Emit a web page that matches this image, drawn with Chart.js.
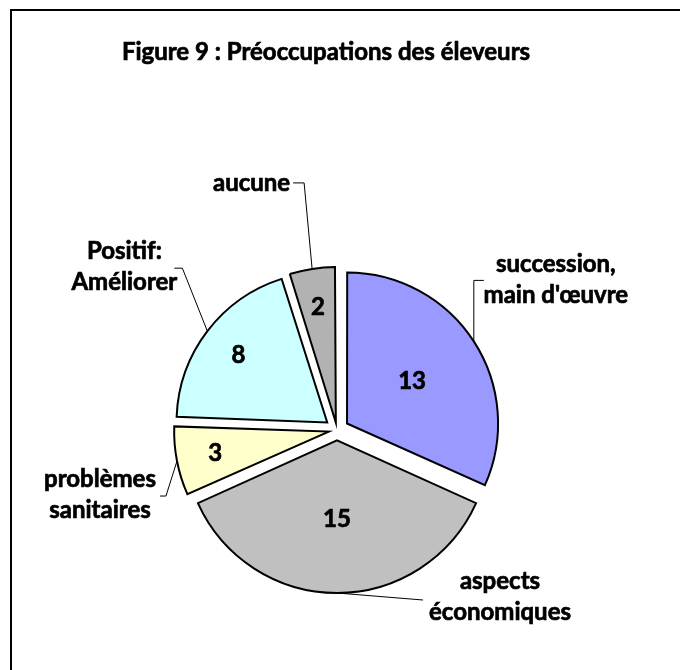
<!DOCTYPE html>
<html>
<head>
<meta charset="utf-8">
<script src="https://cdn.jsdelivr.net/npm/chart.js@4.4.0/dist/chart.umd.min.js"></script>
<style>
  html, body { margin: 0; padding: 0; background: #fff; }
  canvas { display: block; }
</style>
</head>
<body>
<canvas id="pieChart" width="680" height="670"></canvas>
<script>
const chartTitle = 'Figure 9 : Préoccupations des éleveurs';
const categories = [
  ['succession,', "main d'œuvre"],
  ['aspects', 'économiques'],
  ['problèmes', 'sanitaires'],
  ['Positif:', 'Améliorer'],
  ['aucune']
];
const counts = [13, 15, 3, 8, 2];

const sliceColors = ['#9999FF', '#C0C0C0', '#FFFFCC', '#CCFFFF', '#B2B2B2'];
const FONT = 'bold 24px Lato';
const EXPLODE = 13; // how far each slice is pulled out, in px

// leader line bends and label block centre, relative to the point on the arc
const leaders = [
  { path: [[0, -61], [10, -61]], text: [82, -62] },
  { path: [[86, 7]], text: [163, 4] },
  { path: [[-11, 35], [-17, 35]], text: [-77, 34] },
  { path: [[-25, -63], [-33, -63]], text: [-83, -64] },
  { path: [[-8, -86], [-19, -86]], text: [-22, -86], align: 'right' }
];

const total = counts.reduce((a, b) => a + b, 0);

// chart.js v4 draws an arc moved by offset/4*(1+fix), so undo that
function offsetFor(value) {
  const c = value / total * Math.PI * 2;
  const fix = 1 - Math.sin(Math.min(Math.PI, c));
  return 4 * EXPLODE / (1 + fix);
}
function shiftOf(arc) {
  const c = arc.endAngle - arc.startAngle;
  const fix = 1 - Math.sin(Math.min(Math.PI, c));
  return (arc.options.offset || 0) / 4 * (1 + fix);
}

// bold text with a thin outline so it reads as heavy as the original
function heavyText(ctx, s, x, y) {
  ctx.fillText(s, x, y);
  ctx.lineWidth = 0.7;
  ctx.strokeText(s, x, y);
}

const decorPlugin = {
  id: 'decor',
  beforeDraw(chart) {
    const ctx = chart.ctx;
    ctx.save();
    ctx.strokeStyle = '#000';
    ctx.lineWidth = 2;
    ctx.beginPath();
    ctx.moveTo(11, chart.height);
    ctx.lineTo(11, 10);
    ctx.lineTo(chart.width, 10);
    ctx.stroke();
    ctx.fillStyle = '#000';
    ctx.font = FONT;
    ctx.textAlign = 'center';
    ctx.textBaseline = 'middle';
    heavyText(ctx, chartTitle, 326, 52);
    ctx.restore();
  },
  afterDatasetsDraw(chart) {
    const ctx = chart.ctx;
    const meta = chart.getDatasetMeta(0);
    ctx.save();
    ctx.fillStyle = '#000';
    ctx.strokeStyle = '#000';
    ctx.textBaseline = 'middle';
    meta.data.forEach((arc, i) => {
      const p = arc.getProps(['x', 'y', 'startAngle', 'endAngle', 'outerRadius'], true);
      const mid = (p.startAngle + p.endAngle) / 2;
      const t = shiftOf(arc);
      const cx = p.x + Math.cos(mid) * t;
      const cy = p.y + Math.sin(mid) * t;
      const r = p.outerRadius;

      // value inside the slice
      const frac = counts[i] / total > 0.25 ? 0.51 : 0.74;
      ctx.font = FONT;
      ctx.textAlign = 'center';
      heavyText(ctx, String(counts[i]), cx + Math.cos(mid) * r * frac, cy + Math.sin(mid) * r * frac);

      // leader line
      const ax = cx + Math.cos(mid) * r;
      const ay = cy + Math.sin(mid) * r;
      const L = leaders[i];
      ctx.lineWidth = 1;
      ctx.beginPath();
      ctx.moveTo(ax, ay);
      L.path.forEach(([dx, dy]) => ctx.lineTo(ax + dx, ay + dy));
      ctx.stroke();

      // category label
      const lines = categories[i];
      const lh = 31;
      ctx.textAlign = L.align || 'center';
      const y0 = ay + L.text[1] - (lines.length - 1) * lh / 2;
      lines.forEach((s, k) => heavyText(ctx, s, ax + L.text[0], y0 + k * lh));
    });
    ctx.restore();
  }
};

new Chart(document.getElementById('pieChart'), {
  type: 'pie',
  data: {
    labels: categories.map(l => l.join(' ')),
    datasets: [{
      data: counts,
      backgroundColor: sliceColors,
      borderColor: '#000',
      borderWidth: 2,
      borderJoinStyle: 'miter',
      offset: ctx => offsetFor(ctx.raw)
    }]
  },
  options: {
    responsive: false,
    animation: false,
    radius: 150,
    layout: { padding: { top: 190, bottom: 0, left: 0, right: 6 } },
    plugins: {
      legend: { display: false },
      title: { display: false },
      tooltip: { enabled: false }
    }
  },
  plugins: [decorPlugin]
});
</script>
</body>
</html>
